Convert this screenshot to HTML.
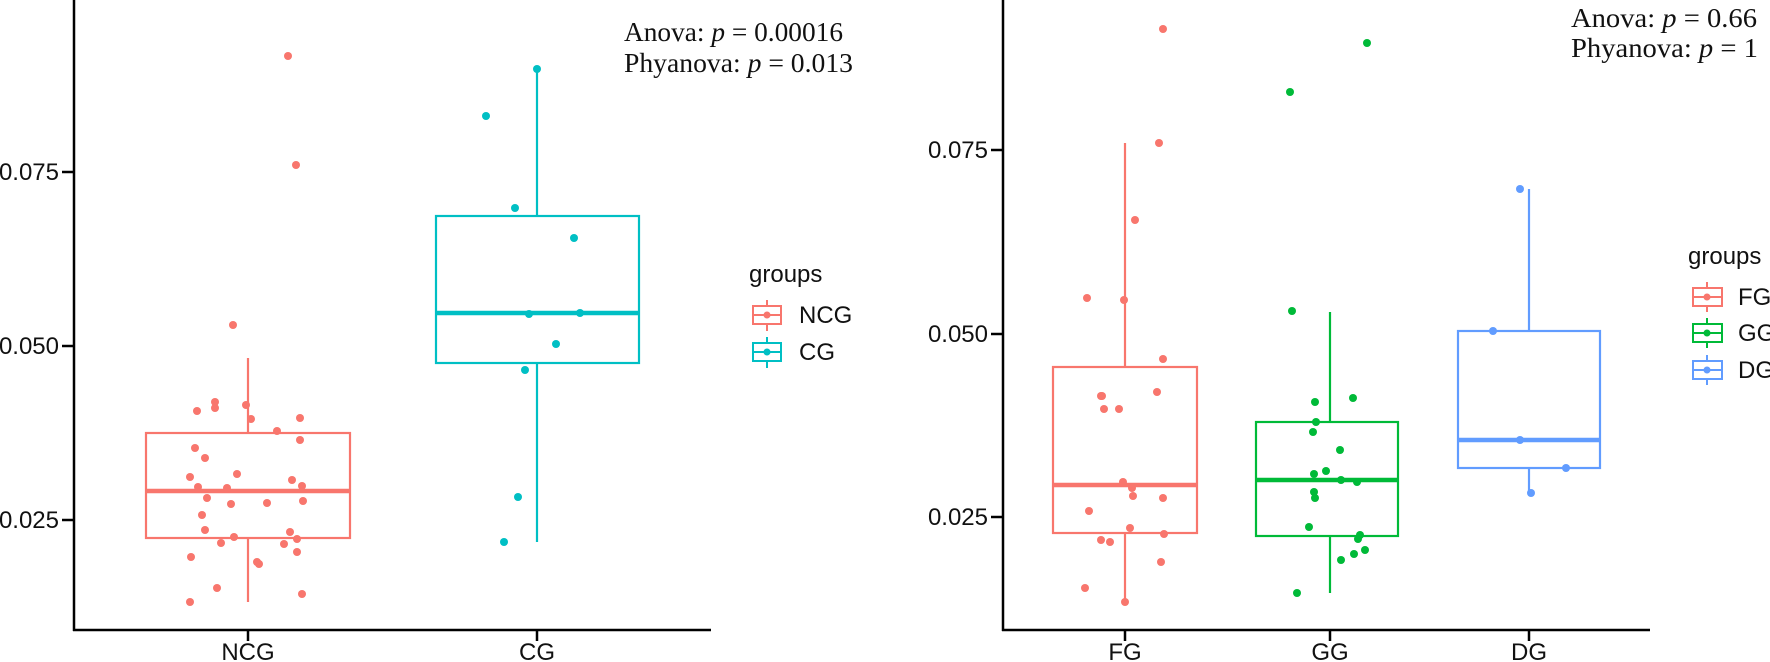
<!DOCTYPE html>
<html><head><meta charset="utf-8"><style>
html,body{margin:0;padding:0;background:#fff;}
svg{display:block;}
.t{font-family:"Liberation Sans",Arial,sans-serif;font-size:24px;fill:#111;}
.s{font-family:"Liberation Serif","Times New Roman",serif;font-size:27px;fill:#111;}
</style></head><body>
<svg width="1770" height="662" viewBox="0 0 1770 662" xmlns="http://www.w3.org/2000/svg">
<!-- LEFT PANEL -->
<g stroke="#000" stroke-width="2.5" fill="none">
<line x1="74" y1="0" x2="74" y2="631"/>
<line x1="73" y1="630" x2="711" y2="630"/>
<line x1="62" y1="172" x2="74" y2="172"/>
<line x1="62" y1="346" x2="74" y2="346"/>
<line x1="62" y1="520" x2="74" y2="520"/>
<line x1="248" y1="630" x2="248" y2="641"/>
<line x1="537" y1="630" x2="537" y2="641"/>
</g>
<g class="t" text-anchor="end">
<text x="59" y="180">0.075</text>
<text x="59" y="354">0.050</text>
<text x="59" y="528">0.025</text>
</g>
<g class="t" text-anchor="middle">
<text x="248" y="660">NCG</text>
<text x="537" y="660">CG</text>
</g>
<!-- NCG box -->
<g stroke="#F8766D" stroke-width="2.2" fill="none">
<line x1="248" y1="358" x2="248" y2="433"/>
<line x1="248" y1="538" x2="248" y2="602"/>
<rect x="146" y="433" width="204" height="105"/>
<line x1="146" y1="491" x2="350" y2="491" stroke-width="4.5"/>
</g>
<g fill="#F8766D">
<circle cx="288" cy="56" r="4"/><circle cx="296" cy="165" r="4"/><circle cx="233" cy="325" r="4"/>
<circle cx="215" cy="402" r="4"/><circle cx="197" cy="411" r="4"/><circle cx="215" cy="408" r="4"/><circle cx="246" cy="405" r="4"/>
<circle cx="251" cy="419" r="4"/><circle cx="300" cy="418" r="4"/><circle cx="277" cy="431" r="4"/><circle cx="300" cy="440" r="4"/>
<circle cx="195" cy="448" r="4"/><circle cx="205" cy="458" r="4"/><circle cx="190" cy="477" r="4"/><circle cx="237" cy="474" r="4"/>
<circle cx="292" cy="480" r="4"/><circle cx="198" cy="487" r="4"/><circle cx="227" cy="488" r="4"/><circle cx="302" cy="486" r="4"/>
<circle cx="207" cy="498" r="4"/><circle cx="231" cy="504" r="4"/><circle cx="267" cy="503" r="4"/><circle cx="303" cy="501" r="4"/>
<circle cx="202" cy="515" r="4"/><circle cx="205" cy="530" r="4"/><circle cx="234" cy="537" r="4"/><circle cx="290" cy="532" r="4"/>
<circle cx="297" cy="539" r="4"/><circle cx="221" cy="543" r="4"/><circle cx="284" cy="544" r="4"/><circle cx="297" cy="552" r="4"/>
<circle cx="191" cy="557" r="4"/><circle cx="257" cy="562" r="4"/><circle cx="259" cy="564" r="4"/><circle cx="217" cy="588" r="4"/>
<circle cx="302" cy="594" r="4"/><circle cx="190" cy="602" r="4"/>
</g>
<!-- CG box -->
<g stroke="#00BFC4" stroke-width="2.2" fill="none">
<line x1="537" y1="69" x2="537" y2="216"/>
<line x1="537" y1="363" x2="537" y2="542"/>
<rect x="436" y="216" width="203" height="147"/>
<line x1="436" y1="313" x2="639" y2="313" stroke-width="4.5"/>
</g>
<g fill="#00BFC4">
<circle cx="537" cy="69" r="4"/><circle cx="486" cy="116" r="4"/><circle cx="515" cy="208" r="4"/><circle cx="574" cy="238" r="4"/>
<circle cx="529" cy="314" r="4"/><circle cx="580" cy="313" r="4"/><circle cx="556" cy="344" r="4"/><circle cx="525" cy="370" r="4"/>
<circle cx="518" cy="497" r="4"/><circle cx="504" cy="542" r="4"/>
</g>
<text class="s" x="624" y="41" textLength="219" lengthAdjust="spacingAndGlyphs">Anova: <tspan font-style="italic">p</tspan> = 0.00016</text>
<text class="s" x="624" y="72" textLength="229" lengthAdjust="spacingAndGlyphs">Phyanova: <tspan font-style="italic">p</tspan> = 0.013</text>
<!-- left legend -->
<text class="t" x="749" y="282" font-size="26">groups</text>
<g stroke="#F8766D" stroke-width="2" fill="none"><line x1="767" y1="300" x2="767" y2="331"/><rect x="753" y="306" width="28" height="18" fill="#fff"/><line x1="753" y1="315" x2="781" y2="315"/></g>
<circle cx="767" cy="315" r="3.5" fill="#F8766D"/>
<g stroke="#00BFC4" stroke-width="2" fill="none"><line x1="767" y1="337" x2="767" y2="368"/><rect x="753" y="343" width="28" height="18" fill="#fff"/><line x1="753" y1="352" x2="781" y2="352"/></g>
<circle cx="767" cy="352" r="3.5" fill="#00BFC4"/>
<text class="t" x="799" y="323" font-size="21">NCG</text>
<text class="t" x="799" y="360" font-size="21">CG</text>

<!-- RIGHT PANEL -->
<g stroke="#000" stroke-width="2.5" fill="none">
<line x1="1003" y1="0" x2="1003" y2="631"/>
<line x1="1002" y1="630" x2="1650" y2="630"/>
<line x1="991" y1="150" x2="1003" y2="150"/>
<line x1="991" y1="334" x2="1003" y2="334"/>
<line x1="991" y1="517" x2="1003" y2="517"/>
<line x1="1125" y1="630" x2="1125" y2="641"/>
<line x1="1330" y1="630" x2="1330" y2="641"/>
<line x1="1529" y1="630" x2="1529" y2="641"/>
</g>
<g class="t" text-anchor="end">
<text x="988" y="158">0.075</text>
<text x="988" y="342">0.050</text>
<text x="988" y="525">0.025</text>
</g>
<g class="t" text-anchor="middle">
<text x="1125" y="660">FG</text>
<text x="1330" y="660">GG</text>
<text x="1529" y="660">DG</text>
</g>
<!-- FG -->
<g stroke="#F8766D" stroke-width="2.2" fill="none">
<line x1="1125" y1="143" x2="1125" y2="367"/>
<line x1="1125" y1="533" x2="1125" y2="602"/>
<rect x="1053" y="367" width="144" height="166"/>
<line x1="1053" y1="485" x2="1197" y2="485" stroke-width="4.5"/>
</g>
<g fill="#F8766D">
<circle cx="1163" cy="29" r="4"/><circle cx="1159" cy="143" r="4"/><circle cx="1135" cy="220" r="4"/><circle cx="1087" cy="298" r="4"/>
<circle cx="1124" cy="300" r="4"/><circle cx="1163" cy="359" r="4"/><circle cx="1101" cy="396" r="4"/><circle cx="1157" cy="392" r="4"/>
<circle cx="1102" cy="396" r="4"/><circle cx="1104" cy="409" r="4"/><circle cx="1119" cy="409" r="4"/><circle cx="1123" cy="482" r="4"/>
<circle cx="1132" cy="488" r="4"/><circle cx="1133" cy="496" r="4"/><circle cx="1163" cy="498" r="4"/><circle cx="1089" cy="511" r="4"/>
<circle cx="1130" cy="528" r="4"/><circle cx="1164" cy="534" r="4"/><circle cx="1101" cy="540" r="4"/><circle cx="1110" cy="542" r="4"/>
<circle cx="1161" cy="562" r="4"/><circle cx="1085" cy="588" r="4"/><circle cx="1125" cy="602" r="4"/>
</g>
<!-- GG -->
<g stroke="#00BA38" stroke-width="2.2" fill="none">
<line x1="1330" y1="312" x2="1330" y2="422"/>
<line x1="1330" y1="536" x2="1330" y2="593"/>
<rect x="1256" y="422" width="142" height="114"/>
<line x1="1256" y1="480" x2="1398" y2="480" stroke-width="4.5"/>
</g>
<g fill="#00BA38">
<circle cx="1367" cy="43" r="4"/><circle cx="1290" cy="92" r="4"/><circle cx="1292" cy="311" r="4"/>
<circle cx="1315" cy="402" r="4"/><circle cx="1353" cy="398" r="4"/><circle cx="1316" cy="422" r="4"/><circle cx="1313" cy="432" r="4"/>
<circle cx="1340" cy="450" r="4"/><circle cx="1314" cy="474" r="4"/><circle cx="1326" cy="471" r="4"/><circle cx="1341" cy="480" r="4"/>
<circle cx="1357" cy="482" r="4"/><circle cx="1314" cy="492" r="4"/><circle cx="1315" cy="498" r="4"/><circle cx="1309" cy="527" r="4"/>
<circle cx="1360" cy="535" r="4"/><circle cx="1358" cy="539" r="4"/><circle cx="1365" cy="550" r="4"/><circle cx="1354" cy="554" r="4"/>
<circle cx="1341" cy="560" r="4"/><circle cx="1297" cy="593" r="4"/>
</g>
<!-- DG -->
<g stroke="#619CFF" stroke-width="2.2" fill="none">
<line x1="1529" y1="189" x2="1529" y2="331"/>
<line x1="1529" y1="468" x2="1529" y2="493"/>
<rect x="1458" y="331" width="142" height="137"/>
<line x1="1458" y1="440" x2="1600" y2="440" stroke-width="4.5"/>
</g>
<g fill="#619CFF">
<circle cx="1520" cy="189" r="4"/><circle cx="1493" cy="331" r="4"/><circle cx="1520" cy="440" r="4"/>
<circle cx="1566" cy="468" r="4"/><circle cx="1531" cy="493" r="4"/>
</g>
<text class="s" x="1571" y="27" textLength="186" lengthAdjust="spacingAndGlyphs">Anova: <tspan font-style="italic">p</tspan> = 0.66</text>
<text class="s" x="1571" y="57" textLength="187" lengthAdjust="spacingAndGlyphs">Phyanova: <tspan font-style="italic">p</tspan> = 1</text>
<!-- right legend -->
<text class="t" x="1688" y="264" font-size="26">groups</text>
<g stroke="#F8766D" stroke-width="2" fill="none"><line x1="1707" y1="282" x2="1707" y2="312"/><rect x="1693" y="288" width="29" height="18" fill="#fff"/><line x1="1693" y1="297" x2="1722" y2="297"/></g>
<circle cx="1707" cy="297" r="3.5" fill="#F8766D"/>
<g stroke="#00BA38" stroke-width="2" fill="none"><line x1="1707" y1="318" x2="1707" y2="348"/><rect x="1693" y="324" width="29" height="18" fill="#fff"/><line x1="1693" y1="333" x2="1722" y2="333"/></g>
<circle cx="1707" cy="333" r="3.5" fill="#00BA38"/>
<g stroke="#619CFF" stroke-width="2" fill="none"><line x1="1707" y1="355" x2="1707" y2="385"/><rect x="1693" y="361" width="29" height="18" fill="#fff"/><line x1="1693" y1="370" x2="1722" y2="370"/></g>
<circle cx="1707" cy="370" r="3.5" fill="#619CFF"/>
<text class="t" x="1738" y="305" font-size="21">FG</text>
<text class="t" x="1738" y="341" font-size="21">GG</text>
<text class="t" x="1738" y="378" font-size="21">DG</text>
</svg>
</body></html>
